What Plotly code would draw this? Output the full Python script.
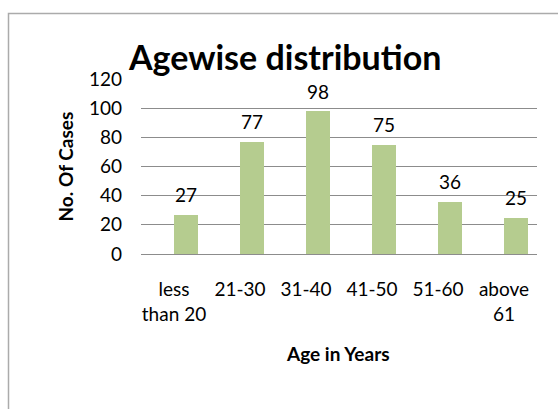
import plotly.graph_objects as go

categories = ["less<br>than 20", "21-30", "31-40", "41-50", "51-60", "above<br>61"]
cases = [27, 77, 98, 75, 36, 25]
y_ticks = [0, 20, 40, 60, 80, 100, 120]

W, H = 558, 409
L, R, T, B = 141, 21, 79, 155
pw = W - L - R
ph = H - T - B

def px(xp):
    return (xp - L) / pw

def py(yp):
    return (H - B - yp) / ph

idx = list(range(len(categories)))
fig = go.Figure()
fig.add_trace(go.Bar(
    x=idx, y=cases, width=0.36, offset=0,
    marker=dict(color="#B5CC8F", line=dict(width=0)),
    hoverinfo="skip",
))

for i, v in zip(idx, cases):
    fig.add_annotation(x=i + 0.18, y=v, xref="x", yref="y", text=str(v),
                       showarrow=False, yshift=20, yanchor="middle",
                       font=dict(family="Lato", size=19, color="#000000"))

fig.add_annotation(x=px(65), y=py(166.5), xref="paper", yref="paper", text="<b>No. Of Cases</b>",
                   textangle=-90, showarrow=False, xanchor="center", yanchor="middle",
                   font=dict(family="Lato", size=19, color="#000000"))
fig.add_annotation(x=px(338), y=py(353), xref="paper", yref="paper", text="<b>Age in Years</b>",
                   showarrow=False, xanchor="center", yanchor="middle",
                   font=dict(family="Lato", size=19, color="#000000"))
fig.add_annotation(x=px(284), y=py(56), xref="paper", yref="paper",
                   text="<b>Agewise dis<span style='font-family:Lato'>t</span>ribu<span style='font-family:Lato'>t</span>ion</b>",
                   showarrow=False, xanchor="center", yanchor="middle",
                   font=dict(family="Lato", size=34, color="#000000"))

fig.add_shape(type="rect", xref="paper", yref="paper",
              x0=px(8.5), y0=py(420), x1=px(570), y1=py(13.5),
              line=dict(color="#ABABAB", width=1.5), layer="below")

fig.update_layout(
    width=W, height=H,
    margin=dict(l=L, r=R, t=T, b=B, pad=0),
    paper_bgcolor="#FFFFFF", plot_bgcolor="#FFFFFF",
    showlegend=False,
    bargap=0,
    xaxis=dict(range=[-0.5, 5.5], tickmode="array", tickvals=idx, ticktext=categories,
               showgrid=False, zeroline=False, showline=False, ticks="",
               ticklabelstandoff=22,
               tickfont=dict(family="Lato", size=19, color="#000000"), fixedrange=True),
    yaxis=dict(range=[0, 120], tickmode="array", tickvals=y_ticks,
               showgrid=True, gridcolor="#8C8C8C", gridwidth=1,
               zeroline=True, zerolinecolor="#8C8C8C", zerolinewidth=1,
               showline=False, ticks="", ticklabelstandoff=18,
               tickfont=dict(family="Lato", size=19, color="#000000"), fixedrange=True),
)

fig.write_html("out.html", config={"displayModeBar": False},
               post_script="document.body.style.margin='0px';document.body.style.overflow='hidden';")
